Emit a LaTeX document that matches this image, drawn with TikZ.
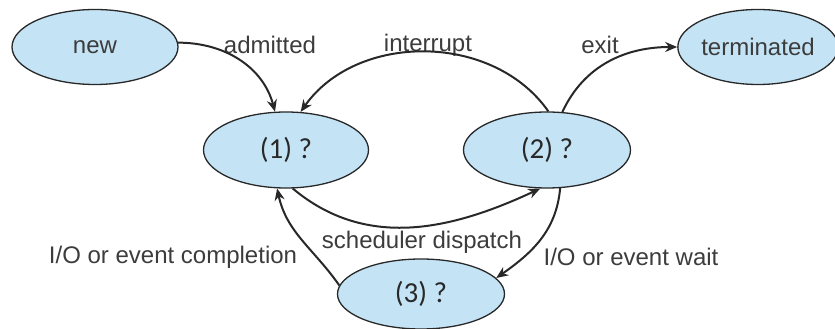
\documentclass[tikz,border=0pt]{standalone}
\usepackage{fontspec}
\setmainfont{Liberation Sans}
\newfontfamily\statefont{Carlito}
\usetikzlibrary{arrows.meta,shapes.geometric}
\definecolor{statefill}{RGB}{196,228,246}
\definecolor{inkgray}{RGB}{40,40,40}
\definecolor{textgray}{RGB}{60,60,60}
\tikzset{
  state/.style={ellipse, draw=inkgray, line width=1.3pt, fill=statefill, inner sep=0pt,
    text=textgray, font=\fontsize{24}{28}\selectfont},
  numstate/.style={state, text=inkgray, font=\statefont\fontsize{29}{33}\selectfont},
  trans/.style={draw=inkgray, line width=2pt, -{Stealth[length=12pt,width=10pt]}},
  lbl/.style={text=textgray, font=\fontsize{24}{28}\selectfont, inner sep=0pt}
}
\begin{document}
\begin{tikzpicture}[x=1pt,y=1pt]
\useasboundingbox (0,0) rectangle (835,329);
\node[state, minimum width=166pt, minimum height=75pt] (new) at (95,282) {new};
\node[state, minimum width=156pt, minimum height=75pt] (term) at (758,282) {terminated};
\node[numstate, minimum width=165pt, minimum height=76pt] (n1) at (286,179) {\raisebox{-7pt}{(1) ?}};
\node[numstate, minimum width=167pt, minimum height=76pt] (n2) at (547,179) {\raisebox{-7pt}{(2) ?}};
\node[numstate, minimum width=167pt, minimum height=70pt] (n3) at (421,35) {\raisebox{-6pt}{(3) ?}};

\node[lbl] (ladm) at (270,284) {admitted};
\node[lbl] (lint) at (428,284) {interrupt};
\node[lbl] (lexit) at (600,284) {exit};
\node[lbl] (lsch) at (422,87) {scheduler dispatch};
\node[lbl] (lcomp) at (173,72) {I/O or event completion};
\node[lbl] (lwait) at (631,72) {I/O or event wait};

\draw[trans] (new.3) to[out=0,in=105] (n1.106);
\draw[trans] (n2.88) to[out=125,in=55] (n1.69);
\draw[trans] (n2.68) to[out=65,in=180] (term.west);
\draw[trans] (n1.280) to[out=-40,in=-155] (n2.260);
\draw[trans] (n2.289) to[out=-95,in=35] (n3.12);
\draw[trans] (n3.174) to[out=125,in=-78] (n1.257);
\end{tikzpicture}
\end{document}
